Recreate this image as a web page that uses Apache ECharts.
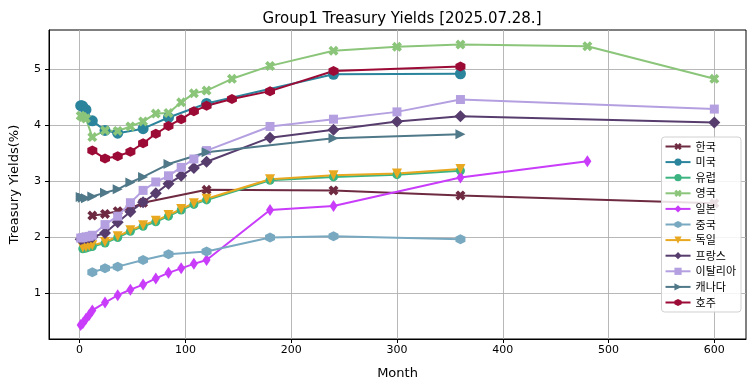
<!DOCTYPE html>
<html>
<head>
<meta charset="utf-8">
<script src="https://cdn.jsdelivr.net/npm/echarts@6/dist/echarts.min.js"></script>
<style>html,body{margin:0;padding:0;background:#fff}#c{width:755px;height:391px}</style>
</head>
<body>
<div id="c"></div>
<script>
const titleText = 'Group1 Treasury Yields [2025.07.28.]';
const xTicks = [0, 100, 200, 300, 400, 500, 600];
const yTicks = [1, 2, 3, 4, 5];

const names = ['한국','미국','유럽','영국','일본','중국','독일','프랑스','이탈리아','캐나다','호주'];

const m_KR = [12,24,36,48,60,120,240,360,600];
const y_KR = [2.39,2.42,2.47,2.52,2.62,2.85,2.84,2.75,2.61];

const m_US = [1,2,3,6,12,24,36,60,84,120,240,360];
const y_US = [4.35,4.35,4.34,4.28,4.08,3.91,3.86,3.94,4.14,4.39,4.91,4.92];

const m_EU = [3,6,9,12,24,36,48,60,72,84,96,108,120,180,240,300,360];
const y_EU = [1.80,1.81,1.83,1.84,1.90,2.00,2.11,2.20,2.28,2.38,2.49,2.59,2.67,3.02,3.08,3.12,3.19];

const m_UK = [1,3,6,12,24,36,48,60,72,84,96,108,120,144,180,240,300,360,480,600];
const y_UK = [4.17,4.15,4.12,3.79,3.91,3.90,3.98,4.07,4.21,4.22,4.41,4.57,4.62,4.83,5.06,5.33,5.40,5.44,5.41,4.83];

const m_JP = [1,3,6,9,12,24,36,48,60,72,84,96,108,120,180,240,360,480];
const y_JP = [0.44,0.47,0.55,0.62,0.70,0.84,0.97,1.07,1.16,1.27,1.37,1.45,1.53,1.60,2.49,2.56,3.07,3.36];

const m_CN = [12,24,36,60,84,120,180,240,360];
const y_CN = [1.38,1.45,1.48,1.60,1.70,1.75,2.00,2.02,1.97];

const m_DE = [3,6,9,12,24,36,48,60,72,84,96,108,120,180,240,300,360];
const y_DE = [1.82,1.83,1.85,1.86,1.92,2.02,2.13,2.22,2.30,2.40,2.51,2.61,2.69,3.04,3.11,3.14,3.22];

const m_FR = [1,3,6,9,12,24,36,48,60,72,84,96,108,120,180,240,300,360,600];
const y_FR = [1.97,1.98,1.99,2.00,2.01,2.08,2.27,2.46,2.63,2.79,2.96,3.10,3.24,3.35,3.78,3.92,4.07,4.16,4.05];

const m_IT = [1,3,6,9,12,24,36,48,60,72,84,96,108,120,180,240,300,360,600];
const y_IT = [1.99,2.00,2.01,2.02,2.04,2.23,2.38,2.62,2.84,2.99,3.10,3.25,3.40,3.55,3.98,4.11,4.24,4.46,4.29];

const m_CA = [1,3,6,12,24,36,48,60,84,120,240,360];
const y_CA = [2.72,2.71,2.70,2.73,2.80,2.86,2.98,3.08,3.31,3.52,3.77,3.84];

const m_AU = [12,24,36,48,60,72,84,96,108,120,144,180,240,360];
const y_AU = [3.55,3.41,3.45,3.53,3.68,3.85,3.99,4.11,4.25,4.35,4.47,4.61,4.97,5.05];

const colors = ['#6e2a40','#2a849c','#3cb482','#8bc57a','#c83cfa','#78a9c0','#e8a820','#573d6e','#b4a0e0','#4f7888','#9c0b36'];

const X_PATH = 'path://M2.6,0 L5,2.4 L7.4,0 L10,2.6 L7.6,5 L10,7.4 L7.4,10 L5,7.6 L2.6,10 L0,7.4 L2.4,5 L0,2.6 Z';
const HEX_PATH = 'path://M5,0 L9.33,2.5 L9.33,7.5 L5,10 L0.67,7.5 L0.67,2.5 Z';

const seriesDefs = [
  {m: m_KR, y: y_KR, symbol: X_PATH, size: 10, rot: 0},
  {m: m_US, y: y_US, symbol: 'circle', size: 11, rot: 0},
  {m: m_EU, y: y_EU, symbol: 'circle', size: 9, rot: 0},
  {m: m_UK, y: y_UK, symbol: X_PATH, size: 10, rot: 0},
  {m: m_JP, y: y_JP, symbol: 'diamond', size: [8, 12], rot: 0},
  {m: m_CN, y: y_CN, symbol: HEX_PATH, size: 10, rot: 0},
  {m: m_DE, y: y_DE, symbol: 'triangle', size: 10, rot: 180},
  {m: m_FR, y: y_FR, symbol: 'diamond', size: 12, rot: 0},
  {m: m_IT, y: y_IT, symbol: 'rect', size: 9, rot: 0},
  {m: m_CA, y: y_CA, symbol: 'triangle', size: 10, rot: -90},
  {m: m_AU, y: y_AU, symbol: HEX_PATH, size: 10, rot: 0}
];

const series = seriesDefs.map((d, i) => ({
  name: names[i],
  type: 'line',
  data: d.m.map((mm, k) => [mm, d.y[k]]),
  symbol: d.symbol,
  symbolSize: d.size,
  symbolRotate: d.rot,
  showAllSymbol: true,
  lineStyle: {width: 2, color: colors[i]},
  itemStyle: {color: colors[i], borderWidth: 0},
  emphasis: {disabled: true},
  animation: false
}));

const chart = echarts.init(document.getElementById('c'), null, {renderer: 'canvas'});
chart.setOption({
  animation: false,
  color: colors,
  title: {
    text: titleText,
    left: 397,
    textAlign: 'center',
    top: 7,
    textStyle: {fontFamily: 'DejaVu Sans', fontSize: 15, fontWeight: 'normal', color: '#000'}
  },
  grid: {left: 47, right: 9, top: 30, bottom: 52, show: true, borderColor: '#000', borderWidth: 1, backgroundColor: 'transparent'},
  legend: {
    data: names,
    orient: 'vertical',
    right: 14,
    top: 137,
    itemWidth: 25,
    itemHeight: 9,
    itemGap: 4.6,
    padding: [4, 5, 4, 3],
    backgroundColor: 'rgba(255,255,255,0.85)',
    borderColor: '#d0d0d0',
    borderWidth: 1,
    borderRadius: 3,
    textStyle: {fontFamily: 'Noto Sans CJK KR', fontSize: 11, color: '#000'}
  },
  xAxis: {
    type: 'value',
    min: -28.95,
    max: 629.95,
    name: 'Month',
    nameLocation: 'middle',
    nameGap: 28,
    nameTextStyle: {fontFamily: 'DejaVu Sans', fontSize: 13, color: '#000'},
    axisLine: {show: true, onZero: false, lineStyle: {color: '#000', width: 1}},
    axisTick: {show: true, length: 4, lineStyle: {color: '#000'}, customValues: xTicks},
    axisLabel: {customValues: xTicks, margin: 6, fontFamily: 'DejaVu Sans', fontSize: 11, color: '#000'},
    splitLine: {show: true, lineStyle: {color: '#b0b0b0', width: 0.9}}
  },
  yAxis: {
    type: 'value',
    min: 0.19,
    max: 5.70,
    name: 'Treasury Yields(%)',
    nameLocation: 'middle',
    nameGap: 28,
    nameTextStyle: {fontFamily: 'DejaVu Sans', fontSize: 13, color: '#000'},
    axisLine: {show: true, onZero: false, lineStyle: {color: '#000', width: 1}},
    axisTick: {show: true, length: 4, lineStyle: {color: '#000'}, customValues: yTicks},
    axisLabel: {customValues: yTicks, margin: 8, fontFamily: 'DejaVu Sans', fontSize: 11, color: '#000'},
    splitLine: {show: true, lineStyle: {color: '#b0b0b0', width: 0.9}}
  },
  series: series
});
</script>
</body>
</html>
